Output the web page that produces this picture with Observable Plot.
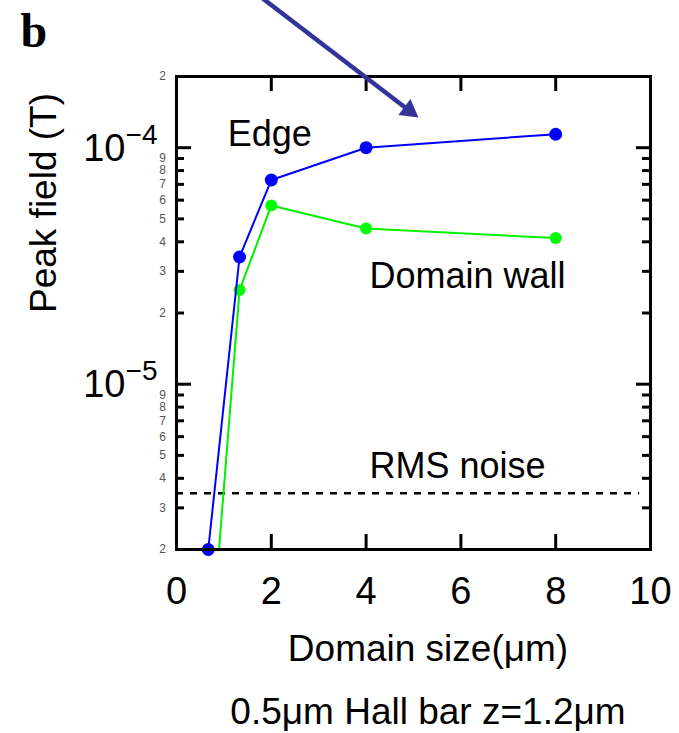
<!DOCTYPE html>
<html><head><meta charset="utf-8">
<script src="https://cdn.jsdelivr.net/npm/d3@7"></script>
<script src="https://cdn.jsdelivr.net/npm/@observablehq/plot@0.6"></script>
<style>body{margin:0;background:#fff}</style>
</head><body><div id="chart"></div>
<script>
// Data
const edgeSize = [0.67, 1.33, 2, 4, 8];
const edgeField = [2.0e-6, 3.45e-5, 7.3e-5, 1.0e-4, 1.14e-4];
const wallSize = [0.75, 1.33, 2, 4, 8];
const wallField = [8.5e-7, 2.5e-5, 5.7e-5, 4.55e-5, 4.15e-5];
const rmsNoise = 3.46e-6;
const rmsNoiseXEnd = 9.77;

// Axis ticks and labels
const xTicks = [0, 2, 4, 6, 8, 10];
const xInnerTicks = [2, 4, 6, 8];
const yMajor = [1e-5, 1e-4];
const yMajorBase = ["10", "10"];
const yMajorExp = ["\u22125", "\u22124"];
const yMinor = [3e-6, 4e-6, 5e-6, 6e-6, 7e-6, 8e-6, 9e-6, 2e-5, 3e-5, 4e-5, 5e-5, 6e-5, 7e-5, 8e-5, 9e-5];
const yMinorLabelValues = [2e-6, 3e-6, 4e-6, 5e-6, 6e-6, 7e-6, 8e-6, 9e-6, 2e-5, 3e-5, 4e-5, 5e-5, 6e-5, 7e-5, 8e-5, 9e-5, 2e-4];
const yMinorLabels = ["2","3","4","5","6","7","8","9","2","3","4","5","6","7","8","9","2"];

// Annotations
const annotations = [
  {x: 1.08, y: 1.02e-4, text: "Edge"},
  {x: 4.07, y: 2.56e-5, text: "Domain wall"},
  {x: 4.07, y: 4.03e-6, text: "RMS noise"}
];
const pointerLine = [{x1: 1.6, y1: 4.62e-4, x2: 4.907, y2: 1.436e-4}];
const pointerHead = [{x: 4.907, y: 1.436e-4, angle: 126.8}];

const edge = edgeSize.map((x, i) => ({x, y: edgeField[i]}));
const wall = wallSize.map((x, i) => ({x, y: wallField[i]}));

const W = 679, H = 733, mL = 176, mR = 29, mT = 76, mB = 184;
const fw = W - mL - mR, fh = H - mT - mB;

const chart = Plot.plot({
  width: W, height: H,
  marginLeft: mL, marginRight: mR, marginTop: mT, marginBottom: mB,
  style: {fontFamily: "'Liberation Sans', Arial, sans-serif", background: "#fff", color: "#000", overflow: "visible"},
  x: {domain: [0, 10], axis: null},
  y: {type: "log", domain: [2e-6, 2e-4], axis: null},
  marks: [
    // RMS noise
    Plot.ruleY([rmsNoise], {y: d => d, x1: 0, x2: rmsNoiseXEnd, stroke: "#000", strokeWidth: 2.5, strokeDasharray: "7,7"}),
    // Domain wall (green)
    Plot.line(wall, {x: "x", y: "y", stroke: "#00f000", strokeWidth: 2, clip: true}),
    Plot.dot(wall, {x: "x", y: "y", r: 6, fill: "#00ff00", clip: true}),
    // Edge (blue)
    Plot.line(edge, {x: "x", y: "y", stroke: "#0000ff", strokeWidth: 2}),
    Plot.dot(edge, {x: "x", y: "y", r: 6.5, fill: "#0000ff"}),
    // frame & ticks
    Plot.frame({stroke: "#000", strokeWidth: 3}),
    Plot.ruleY(yMajor, {y: d => d, insetRight: fw - 15, stroke: "#000", strokeWidth: 3}),
    Plot.ruleY(yMinor, {y: d => d, insetRight: fw - 8, stroke: "#000", strokeWidth: 3}),
    Plot.ruleY(yMajor, {y: d => d, insetLeft: fw - 14, stroke: "#000", strokeWidth: 3}),
    Plot.ruleY(yMinor, {y: d => d, insetLeft: fw - 8, stroke: "#000", strokeWidth: 3}),
    Plot.ruleX(xInnerTicks, {x: d => d, insetTop: fh - 15, stroke: "#000", strokeWidth: 3}),
    Plot.ruleX(xInnerTicks, {x: d => d, insetBottom: fh - 15, stroke: "#000", strokeWidth: 3}),
    // x tick labels
    Plot.text(xTicks, {x: d => d, frameAnchor: "bottom", lineAnchor: "bottom", dy: 54, text: d => String(d), fontSize: 38, fill: "#000"}),
    // y major labels (10 with superscript exponent)
    Plot.text(yMajor, {y: d => d, frameAnchor: "left", textAnchor: "end", lineAnchor: "bottom", dx: -51, dy: 13, text: (d, i) => yMajorBase[i], fontSize: 38, fill: "#000"}),
    Plot.text(yMajor, {y: d => d, frameAnchor: "left", textAnchor: "end", lineAnchor: "bottom", dx: -19, dy: -4, text: (d, i) => yMajorExp[i], fontSize: 28, fill: "#000"}),
    // y minor labels
    Plot.text(yMinorLabelValues, {y: d => d, frameAnchor: "left", textAnchor: "middle", lineAnchor: "middle", dx: -14, text: (d, i) => yMinorLabels[i], fontSize: 12, fill: "#555"}),
    // axis titles
    Plot.text(["Peak field (T)"], {frameAnchor: "left", rotate: -90, lineAnchor: "middle", dx: -132, text: d => d, fontSize: 37, fill: "#000"}),
    Plot.text(["Domain size(\u03bcm)"], {frameAnchor: "bottom", lineAnchor: "bottom", dx: 14.5, dy: 111, text: d => d, fontSize: 37, fill: "#000"}),
    Plot.text(["0.5\u03bcm Hall bar z=1.2\u03bcm"], {frameAnchor: "bottom", lineAnchor: "bottom", dx: 14.5, dy: 174, text: d => d, fontSize: 37, fill: "#000"}),
    Plot.text(["b"], {frameAnchor: "top-left", textAnchor: "start", lineAnchor: "bottom", dx: -156, dy: -30, text: d => d, fontSize: 48, fontWeight: "bold", fontFamily: "'Liberation Serif', 'Times New Roman', serif", fill: "#000"}),
    // annotations
    Plot.text(annotations, {x: "x", y: "y", text: "text", textAnchor: "start", lineAnchor: "bottom", fontSize: 36, fill: "#000"}),
    // pointer arrow
    Plot.link(pointerLine, {x1: "x1", y1: "y1", x2: "x2", y2: "y2", stroke: "#333399", strokeWidth: 4.5}),
    Plot.dot(pointerHead, {x: "x", y: "y", symbol: "triangle", r: 7.5, rotate: "angle", fill: "#333399", stroke: "none"})
  ]
});
document.getElementById("chart").appendChild(chart);
</script>
</body></html>
